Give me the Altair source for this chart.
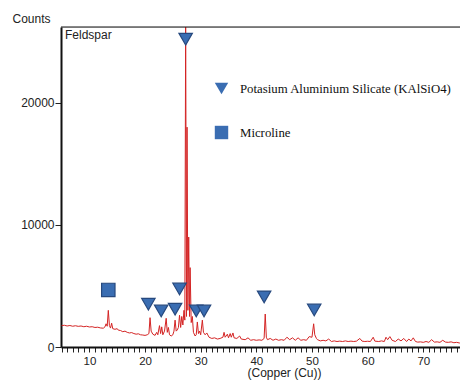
import altair as alt
import pandas as pd

# XRD pattern (2-theta, counts)
two_theta = [
    5.0, 5.5, 6.0, 6.5, 7.0, 7.5, 8.0, 8.5, 9.0, 9.5, 10.0, 10.5, 11.0, 11.5, 12.0, 12.5,
    12.8, 13.0, 13.2, 13.4, 13.6, 13.8, 14.0, 14.2, 14.6, 15.0, 15.2, 15.6, 16.0, 16.4,
    16.8, 17.2, 17.6, 18.0, 18.4, 18.8, 19.2, 19.6, 20.0, 20.4, 20.7, 20.9, 21.1, 21.4,
    21.8, 22.1, 22.3, 22.6, 22.8, 23.0, 23.2, 23.5, 23.8, 24.0, 24.2, 24.4, 24.7, 25.0,
    25.2, 25.4, 25.6, 25.8, 26.0, 26.2, 26.4, 26.6, 26.8, 27.0, 27.15, 27.3, 27.45, 27.55,
    27.7, 27.85, 28.0, 28.1, 28.3, 28.5, 28.7, 29.0, 29.2, 29.4, 29.6, 29.8, 30.0, 30.3,
    30.5, 30.8, 31.1, 31.5, 32.0, 32.5, 33.0, 33.5, 34.0, 34.2, 34.4, 34.8, 35.0, 35.3,
    35.5, 35.8, 36.0, 36.5, 37.0, 37.3, 38.0, 38.5, 39.0, 39.5, 40.0, 40.5, 41.0, 41.4,
    41.6, 41.8, 42.0, 42.5, 43.0, 43.5, 44.0, 44.5, 45.0, 45.5, 46.0, 46.5, 47.0, 47.5,
    48.0, 48.5, 49.0, 49.5, 50.0, 50.3, 50.5, 50.8, 51.0, 51.5, 52.0, 52.5, 53.0, 53.5,
    54.0, 54.5, 55.0, 55.5, 56.0, 56.5, 57.0, 57.5, 58.0, 58.6, 59.0, 59.5, 60.0, 60.5,
    61.0, 61.3, 62.0, 62.5, 63.0, 63.3, 63.6, 64.0, 64.4, 65.0, 65.5, 66.0, 66.5, 67.0,
    67.4, 67.8, 68.2, 68.6, 69.0, 69.5, 70.0, 70.5, 71.0, 71.5, 72.0, 72.5, 73.0, 73.5,
    74.0, 74.5, 75.0, 75.5, 76.0, 76.5, 77.0, 77.5, 78.0,
]
counts = [
    1750, 1780, 1720, 1760, 1700, 1740, 1690, 1720, 1660, 1700, 1640, 1660, 1600, 1620, 1560, 1540,
    1650, 1900, 1700, 3000, 1750, 1550, 1950, 1500, 1450, 1500, 1380, 1350, 1250, 1300,
    1200, 1150, 1180, 1100, 1050, 1080, 1000, 980, 950, 1000, 1100, 2400, 1300, 1050,
    950, 1200, 1000, 1750, 1100, 1650, 1000, 1300, 2350, 1200, 1600, 1000, 900, 1000,
    1300, 2200, 1300, 1400, 1600, 2600, 1600, 2500, 1800, 3000, 2200, 26600, 2500, 18000,
    3000, 9000, 2500, 6500, 2000, 2500, 1200, 900, 1000, 2050, 1100, 1300, 1000, 2200,
    1200, 1000, 1150, 800, 700, 750, 650, 700, 800, 1200, 800, 1050, 750, 1100,
    800, 1150, 750, 700, 900, 650, 600, 750, 550, 600, 550, 580, 550, 700,
    2700, 800, 600, 700, 550, 650, 550, 600, 550, 800, 600, 750, 550, 750,
    550, 600, 550, 850, 800, 1900, 1000, 700, 600, 500, 550, 500, 650, 450,
    500, 450, 480, 450, 500, 450, 480, 450, 480, 700, 480, 450, 470, 450,
    800, 480, 450, 500, 450, 800, 600, 850, 550, 450, 650, 500, 700, 450,
    650, 500, 750, 450, 400, 420, 380, 450, 380, 600, 400, 420, 380, 550,
    400, 380, 420, 350, 380, 330, 360, 300, 330,
]

# phase markers
phase_names = ["Potasium Aluminium Silicate (KAlSiO4)", "Microline"]
tri_x = [27.3, 20.6, 22.9, 25.4, 26.2, 29.2, 30.6, 41.4, 50.4]
tri_y = [25200, 3500, 2950, 3100, 4750, 2950, 2950, 4100, 3030]
sq_x = [13.4]
sq_y = [4670]

x_ticks = list(range(5, 78))
y_ticks = [0, 10000, 20000]

spec_df = pd.DataFrame({"x": two_theta, "y": counts})
mk_df = pd.DataFrame({
    "x": tri_x + sq_x,
    "y": tri_y + sq_y,
    "phase": [phase_names[0]] * len(tri_x) + [phase_names[1]] * len(sq_x),
})

W, H = 399, 320
xscale = alt.Scale(domain=[4.9, 76.6], nice=False, zero=False)
yscale = alt.Scale(domain=[0, 26200], nice=False)

FONT = "Liberation Sans"

line = alt.Chart(spec_df).mark_line(color="#d42424", strokeWidth=1, clip=True).encode(
    x=alt.X("x:Q", scale=xscale, axis=alt.Axis(
        values=x_ticks, tickCount=200, format="d",
        labelExpr="datum.value % 10 === 0 ? datum.label : ''",
        labelOverlap=False, labelFlush=False,
        tickSize=5, tickColor="#222", tickWidth=1,
        labelFont=FONT, labelFontSize=11.5, labelColor="#222", labelPadding=3,
        domainColor="#111", domainWidth=2, grid=False,
        title="(Copper (Cu))", titleFont=FONT, titleFontSize=12,
        titleFontWeight="normal", titleColor="#222", titlePadding=1, titleX=223,
    )),
    y=alt.Y("y:Q", scale=yscale, axis=alt.Axis(
        values=y_ticks, format="d", tickSize=6, tickColor="#222",
        labelFont=FONT, labelFontSize=12, labelColor="#222", labelPadding=1,
        domainColor="#111", domainWidth=2, grid=False,
        title="Counts", titleFont=FONT, titleFontSize=12, titleFontWeight="normal",
        titleColor="#222", titleAngle=0, titleAlign="left", titleBaseline="middle",
        titleX=-49, titleY=-9,
    )),
)

markers = alt.Chart(mk_df).mark_point(
    filled=True, fill="#3a6db2", stroke="#27497e", strokeWidth=1.2, opacity=1
).encode(
    x=alt.X("x:Q", scale=xscale),
    y=alt.Y("y:Q", scale=yscale),
    shape=alt.Shape("phase:N", scale=alt.Scale(domain=phase_names, range=["triangle-down", "square"]),
                    legend=alt.Legend(
                        title=None, orient="none", legendX=153, legendY=54,
                        symbolSize=180, symbolFillColor="#3a6db2", symbolStrokeColor="#27497e",
                        symbolStrokeWidth=1.2, symbolOpacity=1,
                        labelFont="Liberation Serif", labelFontSize=12.8, labelColor="#111",
                        labelOffset=11, rowPadding=26, padding=0, labelLimit=400,
                    )),
    size=alt.value(180),
)

frame_top = alt.Chart(pd.DataFrame({"a": [0]})).mark_rule(color="#111", strokeWidth=1).encode(
    x=alt.value(0), x2=alt.value(W), y=alt.value(0)
)

label = alt.Chart(pd.DataFrame({"t": ["Feldspar"]})).mark_text(
    align="left", baseline="top", font=FONT, fontSize=12, color="#222"
).encode(x=alt.value(4), y=alt.value(3), text="t:N")

chart = alt.layer(line, markers, frame_top, label).properties(
    width=W, height=H,
    padding={"left": 53, "top": 19, "right": 0, "bottom": 34},
    autosize=alt.AutoSizeParams(type="none"),
).configure_view(stroke=None).configure(background="white")

chart.save("out.html", embed_options={"renderer": "svg", "actions": False})
